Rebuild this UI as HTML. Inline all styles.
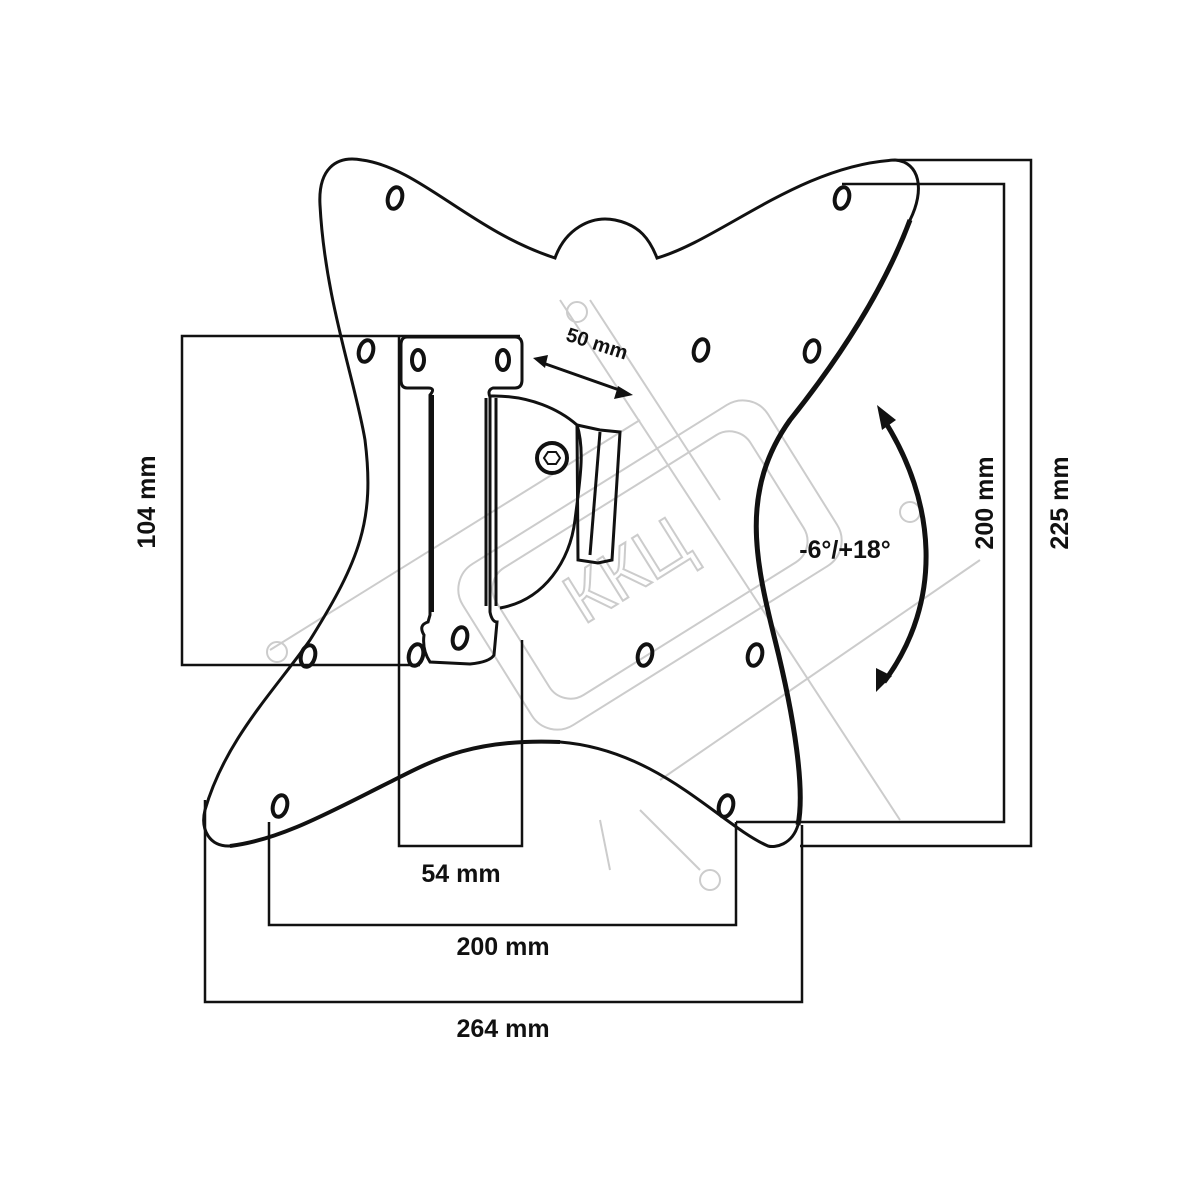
<!DOCTYPE html>
<html><head><style>html,body{margin:0;padding:0;background:#fff}svg{display:block}text{font-family:"Liberation Sans",sans-serif;font-weight:bold;fill:#111}</style></head>
<body>
<svg width="1200" height="1200" viewBox="0 0 1200 1200" xmlns="http://www.w3.org/2000/svg">
<g fill="none" stroke="#ccc" stroke-width="2">
<rect x="470" y="470" width="360" height="190" rx="30" transform="rotate(-32 650 565)"/>
<rect x="500" y="490" width="300" height="150" rx="25" transform="rotate(-32 650 565)"/>
<line x1="560" y1="300" x2="900" y2="820"/><line x1="590" y1="300" x2="720" y2="500"/>
<line x1="270" y1="650" x2="640" y2="420"/><line x1="660" y1="780" x2="980" y2="560"/>
<circle cx="577" cy="312" r="10"/><circle cx="277" cy="652" r="10"/><circle cx="710" cy="880" r="10"/><circle cx="910" cy="512" r="10"/>
<line x1="600" y1="820" x2="610" y2="870"/><line x1="640" y1="810" x2="700" y2="870"/>
</g>
<text x="640" y="590" transform="rotate(-32 640 590)" text-anchor="middle" style="font-size:70px;fill:none;stroke:#ccc;stroke-width:2;font-weight:normal">ККЦ</text>
<g fill="none" stroke="#111" stroke-width="3">
<path d="M320,205 C318,170 335,155 362,160 C420,168 470,230 555,258 C565,230 590,215 615,220 C640,225 650,240 657,258 C720,240 800,165 895,160 C920,162 925,190 910,220 C880,300 830,370 790,420 C740,490 755,560 775,640 C795,720 805,790 798,825 C792,845 775,848 768,846 C720,825 660,750 560,742 C470,738 430,762 390,782 C330,812 280,840 230,846 C210,847 200,830 205,810 C225,740 275,690 310,640 C360,560 375,520 365,440 C355,380 325,300 320,205 Z"/>
<path d="M910,220 C880,300 830,370 790,420 C740,490 755,560 775,640 C795,720 805,790 798,825" stroke-width="5"/>
<path d="M560,742 C470,738 430,762 390,782 C330,812 280,840 230,846" stroke-width="4"/>
<polyline points="520,336 182,336 182,665 420,665" stroke-width="2.5"/>
<polyline points="399,336 399,846 522,846 522,640" stroke-width="2.5"/>
<polyline points="269,822 269,925 736,925 736,822" stroke-width="2.5"/>
<polyline points="205,800 205,1002 802,1002 802,825" stroke-width="2.5"/>
<polyline points="842,184 1004,184 1004,822 736,822" stroke-width="2.5"/>
<polyline points="895,160 1031,160 1031,846 800,846" stroke-width="2.5"/>
<path d="M407,337 L515,337 Q522,337 522,345 L522,380 Q522,388 515,388 L493,388 Q487,390 490,397 L490,612 Q492,622 497,622 L494,655 Q490,662 470,664 L430,662 Q422,650 424,635 Q418,625 428,622 L430,615 L430,395 Q436,388 428,388 L407,388 Q401,388 401,380 L401,345 Q401,337 407,337 Z"/>
<line x1="432" y1="395" x2="432" y2="612" stroke-width="4"/>
<line x1="486" y1="398" x2="486" y2="606"/><line x1="496" y1="398" x2="496" y2="606"/>
<path d="M490,396 C530,395 560,410 577,425 C585,450 580,480 575,520 C570,560 545,600 500,608"/>
<path d="M577,425 L600,430 L620,432 L612,560 L598,563 L578,560 Z"/>
<path d="M600,432 L590,555"/>
<circle cx="552" cy="458" r="15" stroke-width="4"/>
<path d="M548,452 L556,452 L560,458 L556,464 L548,464 L544,458 Z" stroke-width="2"/>
<path d="M884,420 C935,500 945,600 884,682" stroke-width="5"/>
<line x1="540" y1="362" x2="625" y2="392" stroke-width="3"/>
</g>
<g fill="#111">
<polygon points="877,405 896,420 882,430"/><polygon points="876,692 876,668 892,676"/>
<polygon points="533,358 548,355 545,368"/><polygon points="633,395 618,386 614,399"/>
</g>
<g fill="none" stroke="#111" stroke-width="4">
<ellipse cx="395" cy="198" rx="7" ry="11" transform="rotate(15 395 198)"/>
<ellipse cx="842" cy="198" rx="7" ry="11" transform="rotate(15 842 198)"/>
<ellipse cx="366" cy="351" rx="7" ry="11" transform="rotate(15 366 351)"/>
<ellipse cx="418" cy="360" rx="6" ry="10"/>
<ellipse cx="503" cy="360" rx="6" ry="10"/>
<ellipse cx="701" cy="350" rx="7" ry="11" transform="rotate(15 701 350)"/>
<ellipse cx="812" cy="351" rx="7" ry="11" transform="rotate(15 812 351)"/>
<ellipse cx="308" cy="656" rx="7" ry="11" transform="rotate(15 308 656)"/>
<ellipse cx="416" cy="655" rx="7" ry="11" transform="rotate(15 416 655)"/>
<ellipse cx="460" cy="638" rx="7" ry="11" transform="rotate(15 460 638)"/>
<ellipse cx="645" cy="655" rx="7" ry="11" transform="rotate(15 645 655)"/>
<ellipse cx="755" cy="655" rx="7" ry="11" transform="rotate(15 755 655)"/>
<ellipse cx="280" cy="806" rx="7" ry="11" transform="rotate(15 280 806)"/>
<ellipse cx="726" cy="806" rx="7" ry="11" transform="rotate(15 726 806)"/>
</g>
<text x="595" y="350" transform="rotate(18 595 350)" text-anchor="middle" style="font-size:20px">50 mm</text>
<text x="155" y="502" transform="rotate(-90 155 502)" text-anchor="middle" style="font-size:25px">104 mm</text>
<text x="993" y="503" transform="rotate(-90 993 503)" text-anchor="middle" style="font-size:25px">200 mm</text>
<text x="1068" y="503" transform="rotate(-90 1068 503)" text-anchor="middle" style="font-size:25px">225 mm</text>
<text x="845" y="558" text-anchor="middle" style="font-size:25px">-6°/+18°</text>
<text x="461" y="882" text-anchor="middle" style="font-size:25px">54 mm</text>
<text x="503" y="955" text-anchor="middle" style="font-size:25px">200 mm</text>
<text x="503" y="1037" text-anchor="middle" style="font-size:25px">264 mm</text>
</svg>
</body></html>
